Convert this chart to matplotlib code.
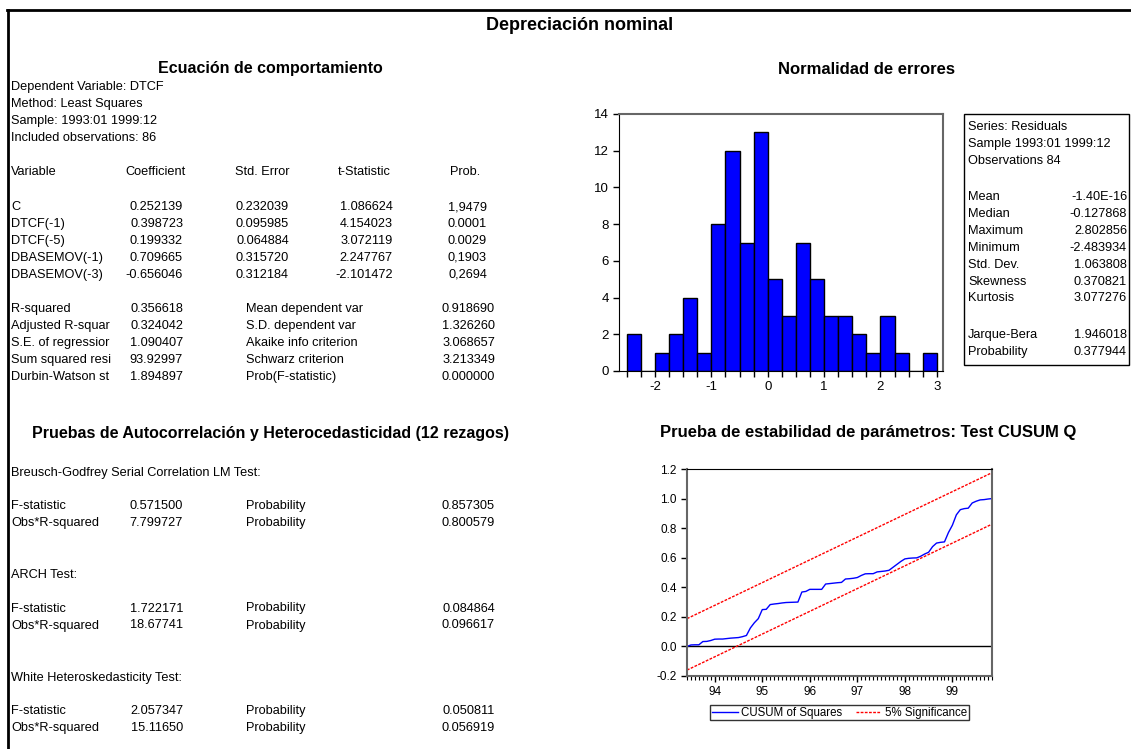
import numpy as np
import matplotlib
matplotlib.use('Agg')
import matplotlib.pyplot as plt
from matplotlib.lines import Line2D
from matplotlib.patches import Rectangle
from matplotlib.ticker import MultipleLocator, FixedLocator, FormatStrFormatter

plt.rcParams['font.family'] = 'Liberation Sans'
plt.rcParams['axes.unicode_minus'] = False

# DATA
# regression output
var_names = ['C', 'DTCF(-1)', 'DTCF(-5)', 'DBASEMOV(-1)', 'DBASEMOV(-3)']
coef = ['0.252139', '0.398723', '0.199332', '0.709665', '-0.656046']
std_err = ['0.232039', '0.095985', '0.064884', '0.315720', '0.312184']
t_stat = ['1.086624', '4.154023', '3.072119', '2.247767', '-2.101472']
prob = ['1,9479', '0.0001', '0.0029', '0,1903', '0,2694']

fit_labels = ['R-squared', 'Adjusted R-squar', 'S.E. of regressior', 'Sum squared resi', 'Durbin-Watson st']
fit_values = ['0.356618', '0.324042', '1.090407', '93.92997', '1.894897']
info_labels = ['Mean dependent var', 'S.D. dependent var', 'Akaike info criterion',
               'Schwarz criterion', 'Prob(F-statistic)']
info_values = ['0.918690', '1.326260', '3.068657', '3.213349', '0.000000']

# residual tests
test_names = ['Breusch-Godfrey Serial Correlation LM Test:', 'ARCH Test:', 'White Heteroskedasticity Test:']
f_stat = ['0.571500', '1.722171', '2.057347']
f_prob = ['0.857305', '0.084864', '0.050811']
obs_r2 = ['7.799727', '18.67741', '15.11650']
obs_prob = ['0.800579', '0.096617', '0.056919']

# histogram of residuals (bins of 0.25 from -2.5 to 3.0)
bin_left = np.arange(-2.5, 3.0, 0.25)
counts = [2, 0, 1, 2, 4, 1, 8, 12, 7, 13, 5, 3, 7, 5, 3, 3, 2, 1, 3, 1, 0, 1]

stat_names = ['Mean', 'Median', 'Maximum', 'Minimum', 'Std. Dev.', 'Skewness', 'Kurtosis']
stat_values = ['-1.40E-16', '-0.127868', '2.802856', '-2.483934', '1.063808', '0.370821', '3.077276']
jb_names = ['Jarque-Bera', 'Probability']
jb_values = ['1.946018', '0.377944']

# CUSUM of squares, monthly 1993:06 - 1999:11
cusum = [0.0, 0.010, 0.011, 0.011, 0.033, 0.034, 0.040, 0.049, 0.050, 0.050,
         0.053, 0.056, 0.058, 0.060, 0.066, 0.074, 0.125, 0.160, 0.188, 0.249,
         0.251, 0.283, 0.287, 0.290, 0.294, 0.297, 0.298, 0.299, 0.300, 0.368,
         0.372, 0.386, 0.386, 0.386, 0.386, 0.422, 0.425, 0.428, 0.431, 0.433,
         0.456, 0.458, 0.461, 0.466, 0.480, 0.491, 0.492, 0.492, 0.504, 0.507,
         0.510, 0.515, 0.535, 0.555, 0.575, 0.592, 0.596, 0.598, 0.599, 0.610,
         0.625, 0.637, 0.675, 0.699, 0.704, 0.707, 0.770, 0.820, 0.890, 0.925,
         0.932, 0.935, 0.970, 0.982, 0.991, 0.993, 0.997, 1.000]
cusum_x = 93 + 5/12 + np.arange(len(cusum)) / 12
sig_upper = [0.188, 1.175]
sig_lower = [-0.160, 0.827]

# FIGURE
W, H = 1131, 749
fig = plt.figure(figsize=(W/100, H/100), dpi=100)

def fx(x):
    return x / W

def fy(y):
    return 1 - y / H

def txt(x, y, s, ha='left', size=9.2, bold=False):
    fig.text(fx(x), fy(y), s, ha=ha, va='center', fontsize=size,
             fontweight='bold' if bold else 'normal')

# outer frame (top and left)
fig.add_artist(Line2D([fx(7), fx(W)], [fy(9.5), fy(9.5)], color='black', lw=2))
fig.add_artist(Line2D([fx(7.5), fx(7.5)], [fy(9.5), fy(H)], color='black', lw=2))

txt(580, 26, 'Depreciación nominal', ha='center', size=13, bold=True)

# regression block
txt(270, 69, 'Ecuación de comportamiento', ha='center', size=11.5, bold=True)
header = ['Dependent Variable: DTCF', 'Method: Least Squares',
          'Sample: 1993:01 1999:12', 'Included observations: 86']
for i, s in enumerate(header):
    txt(11, 87 + 17 * i, s)

txt(11, 172, 'Variable')
txt(156, 172, 'Coefficient', ha='center')
txt(262, 172, 'Std. Error', ha='center')
txt(364, 172, 't-Statistic', ha='center')
txt(465, 172, 'Prob.', ha='center')
for i in range(len(var_names)):
    y = 207 + 17 * i
    txt(11, y, var_names[i])
    txt(183, y, coef[i], ha='right')
    txt(289, y, std_err[i], ha='right')
    txt(393, y, t_stat[i], ha='right')
    txt(487, y, prob[i], ha='right')

for i in range(len(fit_labels)):
    y = 309 + 17 * i
    txt(11, y, fit_labels[i])
    txt(183, y, fit_values[i], ha='right')
    txt(246, y, info_labels[i])
    txt(495, y, info_values[i], ha='right')

# residual tests block
txt(270, 433, 'Pruebas de Autocorrelación y Heterocedasticidad (12 rezagos)', ha='center', size=11.5, bold=True)
for i in range(len(test_names)):
    y0 = 473 + 102.5 * i
    txt(11, y0, test_names[i])
    txt(11, y0 + 33, 'F-statistic')
    txt(183, y0 + 33, f_stat[i], ha='right')
    txt(246, y0 + 33, 'Probability')
    txt(495, y0 + 33, f_prob[i], ha='right')
    txt(11, y0 + 50, 'Obs*R-squared')
    txt(183, y0 + 50, obs_r2[i], ha='right')
    txt(246, y0 + 50, 'Probability')
    txt(495, y0 + 50, obs_prob[i], ha='right')

# histogram
txt(866, 69, 'Normalidad de errores', ha='center', size=12, bold=True)
ax1 = fig.add_axes([fx(619), fy(371), (943 - 619) / W, (371 - 114) / H])
ax1.bar(bin_left, counts, width=0.25, align='edge', color='#0000ff', edgecolor='black', linewidth=1)
ax1.set_xlim(-2.64, 3.11)
ax1.set_ylim(0, 14)
ax1.xaxis.set_major_locator(FixedLocator([-2, -1, 0, 1, 2, 3]))
ax1.xaxis.set_minor_locator(MultipleLocator(0.25))
ax1.yaxis.set_major_locator(MultipleLocator(2))
ax1.tick_params(axis='both', direction='out', length=4, width=1, labelsize=9.5, colors='black')
ax1.tick_params(axis='x', which='minor', length=4, width=1)
for side in ['top', 'right']:
    ax1.spines[side].set_color('#666666')
    ax1.spines[side].set_linewidth(1.5)

# stats box
fig.add_artist(Rectangle((fx(964), fy(365)), (1129 - 964) / W, (365 - 114) / H,
                         fill=False, edgecolor='black', lw=1))
txt(968, 127, 'Series: Residuals')
txt(968, 144, 'Sample 1993:01 1999:12')
txt(968, 161, 'Observations 84')
for i in range(len(stat_names)):
    y = 197 + 16.9 * i
    txt(968, y, stat_names[i])
    txt(1127, y, stat_values[i], ha='right')
for i in range(len(jb_names)):
    y = 335 + 17 * i
    txt(968, y, jb_names[i])
    txt(1127, y, jb_values[i], ha='right')

# CUSUM of squares
txt(868, 432, 'Prueba de estabilidad de parámetros: Test CUSUM Q', ha='center', size=12, bold=True)
ax2 = fig.add_axes([fx(687), fy(676), (992 - 687) / W, (676 - 469) / H])
ax2.axhline(0, color='black', lw=1)
ax2.plot(cusum_x, cusum, color='#0000ff', lw=1, label='CUSUM of Squares')
sig_x = [cusum_x[0], cusum_x[-1]]
ax2.plot(sig_x, sig_upper, color='red', lw=1, linestyle=(0, (2, 1)), label='5% Significance')
ax2.plot(sig_x, sig_lower, color='red', lw=1, linestyle=(0, (2, 1)))
ax2.set_xlim(cusum_x[0], cusum_x[-1])
ax2.set_ylim(-0.2, 1.2)
ax2.xaxis.set_major_locator(FixedLocator([94, 95, 96, 97, 98, 99]))
ax2.xaxis.set_minor_locator(MultipleLocator(1 / 12))
ax2.xaxis.set_major_formatter(FormatStrFormatter('%d'))
ax2.yaxis.set_major_locator(MultipleLocator(0.2))
ax2.yaxis.set_major_formatter(FormatStrFormatter('%.1f'))
ax2.tick_params(axis='both', direction='out', length=4, width=1, labelsize=8.5)
ax2.tick_params(axis='x', which='minor', length=3, width=0.8)
for side in ['left', 'right', 'bottom']:
    ax2.spines[side].set_color('#666666')
    ax2.spines[side].set_linewidth(1.5)
leg = ax2.legend(loc='upper center', bbox_to_anchor=(fx(839.5), fy(705)),
                 bbox_transform=fig.transFigure, ncol=2, fontsize=8.3,
                 frameon=True, fancybox=False, edgecolor='black',
                 borderpad=0.15, borderaxespad=0, handlelength=2.2,
                 columnspacing=1.2, handletextpad=0.3)
leg.get_frame().set_linewidth(1)

fig.savefig('out.png', dpi=100, facecolor='white')
